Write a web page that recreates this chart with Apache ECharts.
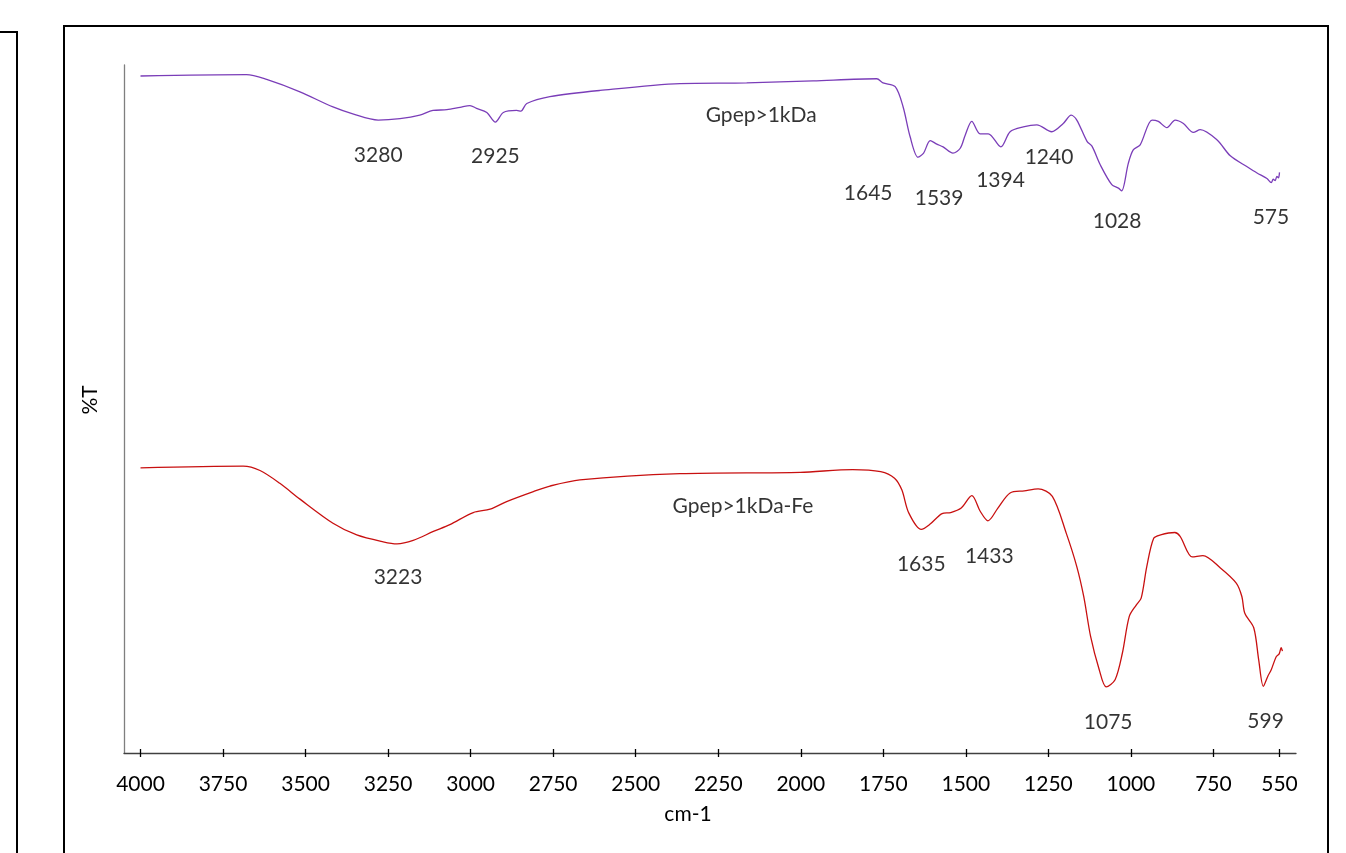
<!DOCTYPE html>
<html>
<head>
<meta charset="utf-8">
<title>FTIR spectra</title>
<script src="https://cdn.jsdelivr.net/npm/echarts@6/dist/echarts.min.js"></script>
<style>
  html, body { margin: 0; padding: 0; background: #fff; }
  #chart { width: 1346px; height: 853px; }
</style>
</head>
<body>
<div id="chart"></div>
<script>
// FTIR spectra: [wavenumber (cm-1), %T offset]
const gpepSpectrum = [
  [4000, 98.4], [3679, 98.6], [3618, 97.9], [3517, 96.1], [3417, 93.9], [3357, 92.9],
  [3280, 92.0], [3214, 92.2], [3154, 92.7], [3114, 93.4], [3072, 93.5], [3032, 93.85],
  [3002, 94.1], [2982, 93.7], [2951, 93.1], [2925, 91.7], [2901, 93.1], [2861, 93.4],
  [2848, 93.3], [2830, 94.4], [2760, 95.4], [2608, 96.3], [2366, 97.3], [2164, 97.4],
  [1963, 97.7], [1770, 98.0], [1751, 97.4], [1714, 96.85], [1690, 93.9], [1669, 89.6],
  [1645, 86.6], [1628, 87.2], [1608, 89.0], [1588, 88.5], [1569, 88.1], [1539, 87.2],
  [1517, 87.9], [1502, 89.8], [1482, 91.8], [1457, 90.0], [1432, 90.0], [1394, 88.1],
  [1366, 90.3], [1326, 91.0], [1285, 91.3], [1240, 90.3], [1205, 91.5], [1181, 92.7],
  [1164, 92.0], [1133, 88.9], [1118, 88.2], [1093, 85.5], [1058, 82.6], [1038, 82.1],
  [1028, 81.7], [1008, 85.7], [993, 87.65], [972, 88.4], [936, 92.0], [917, 91.8],
  [891, 90.9], [866, 92.0], [841, 91.5], [811, 90.2], [790, 90.6], [739, 89.1],
  [699, 86.8], [648, 85.2], [618, 84.3], [588, 83.5], [575, 82.9], [569, 83.4],
  [563, 83.2], [558, 83.8], [553, 83.6], [550, 84.4]
];

const gpepFeSpectrum = [
  [4000, 41.45], [3689, 41.7], [3638, 41.06], [3578, 39.2], [3517, 36.9], [3417, 33.4],
  [3345, 31.7], [3265, 30.7], [3223, 30.4], [3174, 30.9], [3113, 32.2], [3063, 33.2],
  [2992, 34.95], [2941, 35.45], [2891, 36.55], [2810, 38.0], [2760, 38.8], [2669, 39.7],
  [2366, 40.6], [2002, 40.8], [1843, 41.2], [1758, 40.9], [1716, 39.95], [1694, 38.25],
  [1673, 34.9], [1635, 32.5], [1610, 33.2], [1572, 34.8], [1546, 34.95], [1514, 35.6],
  [1482, 37.4], [1456, 35.1], [1433, 33.75], [1403, 35.6], [1366, 37.8], [1323, 38.1],
  [1281, 38.4], [1238, 37.3], [1196, 31.96], [1164, 27.1], [1143, 22.75], [1122, 16.9],
  [1096, 12.1], [1075, 9.6], [1048, 10.65], [1026, 14.5], [1005, 19.85], [984, 21.5],
  [969, 22.5], [952, 27.1], [931, 31.2], [910, 31.7], [867, 32.05], [851, 31.5],
  [814, 28.5], [782, 28.7], [729, 26.9], [681, 24.7], [664, 22.75], [655, 20.3],
  [628, 18.2], [613, 13.55], [599, 9.7], [585, 11.2], [575, 12.1], [560, 14.0],
  [551, 14.4], [545, 15.3], [541, 14.8]
];

// Labelled absorption bands (cm-1)
const gpepPeaks = [3280, 2925, 1645, 1539, 1394, 1240, 1028, 575];
const gpepFePeaks = [3223, 1635, 1433, 1075, 599];

// Sample names
const seriesNames = ['Gpep>1kDa', 'Gpep>1kDa-Fe'];

// Wavenumber axis ticks
const tickValues = [4000, 3750, 3500, 3250, 3000, 2750, 2500, 2250, 2000, 1750, 1500, 1250, 1000, 750, 550];

// Where each annotation sits, in axis coordinates [cm-1, %T]
const gpepLabelAt = [[3280, 86.9], [2925, 86.7], [1796, 81.4], [1581, 80.7], [1395, 83.2], [1248, 86.6], [1042, 77.3], [576, 77.9]];
const gpepFeLabelAt = [[3220, 25.5], [1635, 27.5], [1429, 28.6], [1069, 4.45], [592, 4.6]];
const nameLabelAt = [[2120, 92.7], [2175, 35.8]];

const FONT = 'Lato, "Open Sans", sans-serif';

const annotations = [];
gpepPeaks.forEach((p, i) => annotations.push([gpepLabelAt[i][0], gpepLabelAt[i][1], String(p)]));
gpepFePeaks.forEach((p, i) => annotations.push([gpepFeLabelAt[i][0], gpepFeLabelAt[i][1], String(p)]));
seriesNames.forEach((n, i) => annotations.push([nameLabelAt[i][0], nameLabelAt[i][1], n]));

const chart = echarts.init(document.getElementById('chart'), null, { renderer: 'canvas' });

const xRange = { type: 'value', inverse: true, min: 500, max: 4050, splitLine: { show: false } };

chart.setOption({
  animation: false,
  backgroundColor: '#ffffff',
  grid: { left: 124, right: 50, top: 65, bottom: 100, containLabel: false },
  xAxis: [
    Object.assign({}, xRange, {
      position: 'bottom',
      axisLine: { show: true, lineStyle: { color: '#404040', width: 1.3 } },
      axisTick: { show: true, customValues: tickValues, length: 4, inside: false,
                  lineStyle: { color: '#000', width: 1.3 } },
      axisLabel: { show: true, customValues: tickValues, fontFamily: FONT, fontSize: 21,
                   color: '#000', margin: 21, formatter: v => String(v) },
      name: 'cm-1',
      nameLocation: 'middle',
      nameGap: 51,
      nameTextStyle: { fontFamily: FONT, fontSize: 21, color: '#000', padding: [0, 44, 0, 0] }
    }),
    Object.assign({}, xRange, {
      position: 'bottom',
      axisLine: { show: false },
      axisTick: { show: true, customValues: tickValues, length: 4, inside: true,
                  lineStyle: { color: '#000', width: 1.3 } },
      axisLabel: { show: false }
    })
  ],
  yAxis: {
    type: 'value',
    min: 0,
    max: 100,
    splitLine: { show: false },
    axisLine: { show: true, lineStyle: { color: '#7f7f7f', width: 1.3 } },
    axisTick: { show: false },
    axisLabel: { show: false },
    name: '%T',
    nameLocation: 'middle',
    nameGap: 23,
    nameTextStyle: { fontFamily: FONT, fontSize: 21, color: '#000', padding: [0, 0, 0, 18] }
  },
  graphic: [
    { type: 'rect', z: -1, silent: true,
      shape: { x: 64, y: 26, width: 1264, height: 900 },
      style: { fill: 'none', stroke: '#000', lineWidth: 2 } },
    { type: 'polyline', z: -1, silent: true,
      shape: { points: [[0, 32], [17, 32], [17, 900]] },
      style: { fill: 'none', stroke: '#000', lineWidth: 2 } }
  ],
  series: [
    {
      name: seriesNames[0],
      type: 'line',
      data: gpepSpectrum,
      showSymbol: false,
      smooth: 0.3,
      lineStyle: { color: '#7a3db8', width: 1.3 },
      silent: true
    },
    {
      name: seriesNames[1],
      type: 'line',
      data: gpepFeSpectrum,
      showSymbol: false,
      smooth: 0.3,
      lineStyle: { color: '#c81010', width: 1.3 },
      silent: true
    },
    {
      name: 'annotations',
      type: 'scatter',
      data: annotations,
      symbolSize: 1,
      itemStyle: { color: 'rgba(0,0,0,0)' },
      silent: true,
      label: {
        show: true,
        position: 'inside',
        align: 'center',
        verticalAlign: 'middle',
        fontFamily: FONT,
        fontSize: 21,
        color: '#000',
        formatter: p => p.value[2]
      }
    }
  ]
});
</script>
</body>
</html>
